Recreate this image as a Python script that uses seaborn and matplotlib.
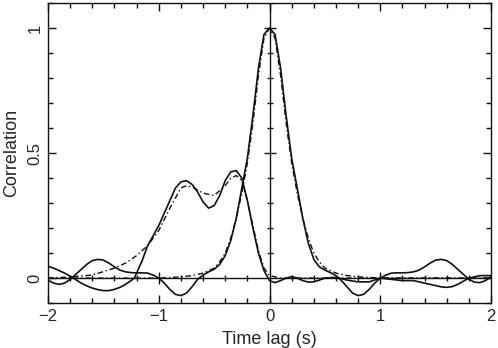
import numpy as np
import pandas as pd
import matplotlib
matplotlib.use("Agg")
import matplotlib.pyplot as plt
import seaborn as sns
from matplotlib.ticker import MultipleLocator

# ---- data ----
auto_x = [-2.0, -1.95, -1.9, -1.85, -1.8, -1.75, -1.7, -1.65, -1.6, -1.55, -1.5, -1.45, -1.4,
          -1.35, -1.3, -1.25, -1.2, -1.15, -1.1, -1.05, -1.0, -0.95, -0.9, -0.85,
          -0.8, -0.75, -0.7, -0.65, -0.6, -0.55, -0.5, -0.45, -0.4, -0.35, -0.3, -0.25, -0.2,
          -0.15, -0.1, -0.05, 0.0, 0.05, 0.1, 0.15, 0.2, 0.25, 0.3, 0.35, 0.4, 0.45, 0.5, 0.55,
          0.6, 0.65, 0.7, 0.75, 0.8, 0.85, 0.9, 0.95, 1.0, 1.05, 1.1, 1.15, 1.2, 1.25, 1.3,
          1.35, 1.4, 1.45, 1.5, 1.55, 1.6, 1.65, 1.7, 1.75, 1.8, 1.85, 1.9, 1.95, 2.0]
auto_y = [-0.008, -0.02, -0.025, -0.02, -0.005, 0.015, 0.035, 0.055, 0.07, 0.075, 0.072,
          0.06, 0.045, 0.032, 0.025, 0.022, 0.021, 0.021, 0.02, 0.012, 0.0, -0.02,
          -0.045, -0.065, -0.07, -0.06, -0.035, -0.005, 0.012, 0.025, 0.035, 0.055, 0.09, 0.15,
          0.24, 0.36, 0.48, 0.65, 0.84, 0.975, 1.0, 0.975, 0.84, 0.65, 0.48, 0.36, 0.24, 0.14,
          0.075, 0.045, 0.032, 0.022, 0.01, -0.01, -0.035, -0.06, -0.07, -0.065, -0.045, -0.02,
          0.0, 0.012, 0.02, 0.021, 0.021, 0.022, 0.025, 0.032, 0.045, 0.06, 0.072, 0.075, 0.07,
          0.055, 0.035, 0.015, -0.005, -0.016, -0.018, -0.01, 0.005]

auto_fit_x = [-2.0, -1.0, -0.8, -0.7, -0.6, -0.5, -0.45, -0.4, -0.35, -0.3, -0.25, -0.2, -0.15,
              -0.1, -0.05, 0.0, 0.05, 0.1, 0.15, 0.2, 0.25, 0.3, 0.35, 0.4, 0.45, 0.5, 0.6,
              0.7, 0.8, 1.0, 2.0]
auto_fit_y = [0.0, 0.0, 0.005, 0.01, 0.02, 0.04, 0.065, 0.1, 0.16, 0.24, 0.34, 0.46, 0.62,
              0.81, 0.96, 1.0, 0.96, 0.81, 0.62, 0.46, 0.34, 0.24, 0.16, 0.1, 0.065, 0.04, 0.02,
              0.01, 0.005, 0.0, 0.0]

cross_x = [-2.0, -1.95, -1.9, -1.85, -1.8, -1.75, -1.7, -1.65, -1.6, -1.55, -1.5, -1.45, -1.4,
           -1.35, -1.3, -1.25, -1.22, -1.15, -1.1, -1.0, -0.9,
           -0.85, -0.8, -0.75, -0.7, -0.65, -0.6, -0.55, -0.5, -0.45, -0.4, -0.35, -0.3, -0.25,
           -0.2, -0.15, -0.1, -0.05, 0.0, 0.05, 0.1, 0.15, 0.2, 0.25, 0.3, 0.35, 0.4, 0.45, 0.5,
           0.6, 0.7, 0.8, 0.9, 1.0, 1.1, 1.2, 1.3, 1.4, 1.5, 1.55, 1.6, 1.65, 1.7, 1.8, 1.9, 2.0]
cross_y = [0.047, 0.04, 0.03, 0.02, 0.008, -0.006, -0.02, -0.031, -0.04, -0.046, -0.05,
           -0.05, -0.045, -0.037, -0.025, -0.01, 0.0, 0.07, 0.13, 0.21,
           0.31, 0.36, 0.385, 0.39, 0.375, 0.345, 0.305, 0.28, 0.29, 0.33, 0.39, 0.425, 0.43,
           0.4, 0.31, 0.2, 0.1, 0.03, -0.01, -0.018, -0.01, 0.0, 0.006, 0.0, -0.01, -0.016,
           -0.015, -0.008, 0.0, 0.003, -0.008, -0.015, -0.015, 0.0, -0.005, -0.01, -0.01,
           -0.02, -0.03, -0.035, -0.037, -0.034, -0.025, 0.0, 0.01, 0.01]

cross_fit_x = [-2.0, -1.8, -1.6, -1.4, -1.3, -1.2, -1.1, -1.0, -0.9, -0.8, -0.75, -0.7, -0.6,
               -0.5, -0.4, -0.35, -0.3, -0.25, -0.2, -0.15, -0.1, -0.05, 0.0, 0.1, 2.0]
cross_fit_y = [0.0, 0.005, 0.012, 0.04, 0.06, 0.09, 0.13, 0.19, 0.28, 0.36, 0.37, 0.365, 0.34,
               0.33, 0.37, 0.4, 0.41, 0.39, 0.31, 0.21, 0.11, 0.04, 0.01, 0.0, 0.0]

x_major = [-2, -1, 0, 1, 2]
x_major_labels = ["\u22122", "\u22121", "0", "1", "2"]
y_major = [0, 0.5, 1]
y_major_labels = ["0", "0.5", "1"]

# ---- plot ----
sns.set_style("ticks")
plt.rcParams['font.family'] = ['Liberation Sans', 'DejaVu Sans']

fig = plt.figure(figsize=(4.98, 3.48), dpi=100)
ax = fig.add_axes([0.0964, 0.129, 0.8896, 0.862])

ink = "#111111"
lw = 1.2
sns.lineplot(x=auto_x, y=auto_y, ax=ax, color=ink, lw=lw, estimator=None, sort=False)
sns.lineplot(x=auto_fit_x, y=auto_fit_y, ax=ax, color=ink, lw=1.0, estimator=None, sort=False,
             linestyle=(0, (4, 2, 1, 2)))
sns.lineplot(x=cross_x, y=cross_y, ax=ax, color=ink, lw=lw, estimator=None, sort=False)
sns.lineplot(x=cross_fit_x, y=cross_fit_y, ax=ax, color=ink, lw=1.0, estimator=None, sort=False,
             linestyle=(0, (4, 2, 1, 2)))

# centre cross lines with ticks
ax.axvline(0, color=ink, lw=1.0)
ax.axhline(0, color=ink, lw=1.0)
xm = np.round(np.arange(-2, 2.001, 0.2), 2)
ym = np.round(np.arange(-0.1, 1.101, 0.1), 2)
xminor = [v for v in xm if abs(v - round(v)) > 1e-6]
xmaj = [v for v in xm if abs(v - round(v)) < 1e-6 and abs(v) not in (0, 2)]
yminor = [v for v in ym if abs(v * 2 - round(v * 2)) > 1e-6]
ymaj = [v for v in ym if abs(v * 2 - round(v * 2)) < 1e-6 and v != 0]
ax.plot(xminor, [0] * len(xminor), ls='none', marker='|', ms=5, mew=1.0, color=ink)
ax.plot(xmaj, [0] * len(xmaj), ls='none', marker='|', ms=9, mew=1.0, color=ink)
ax.plot([0] * len(yminor), yminor, ls='none', marker='_', ms=5, mew=1.0, color=ink)
ax.plot([0] * len(ymaj), ymaj, ls='none', marker='_', ms=9, mew=1.0, color=ink)

ax.set_xlim(-2, 2)
ax.set_ylim(-0.1, 1.1)
ax.set_xticks(x_major)
ax.set_xticklabels(x_major_labels, fontsize=12)
ax.set_yticks(y_major)
ax.set_yticklabels(y_major_labels, fontsize=12, rotation=90, va='center')
ax.xaxis.set_minor_locator(MultipleLocator(0.2))
ax.yaxis.set_minor_locator(MultipleLocator(0.1))
ax.tick_params(which='both', direction='in', top=True, right=True, color=ink, width=1.0)
ax.tick_params(which='major', length=6)
ax.tick_params(axis='x', which='major', pad=4)
ax.tick_params(axis='y', which='major', pad=4)
ax.tick_params(which='minor', length=3.5)
for s in ax.spines.values():
    s.set_color(ink)
    s.set_linewidth(1.0)

ax.set_xlabel("Time lag (s)", fontsize=13, labelpad=5)
ax.set_ylabel("Correlation", fontsize=13, labelpad=5)

fig.savefig("out.png", dpi=100)
